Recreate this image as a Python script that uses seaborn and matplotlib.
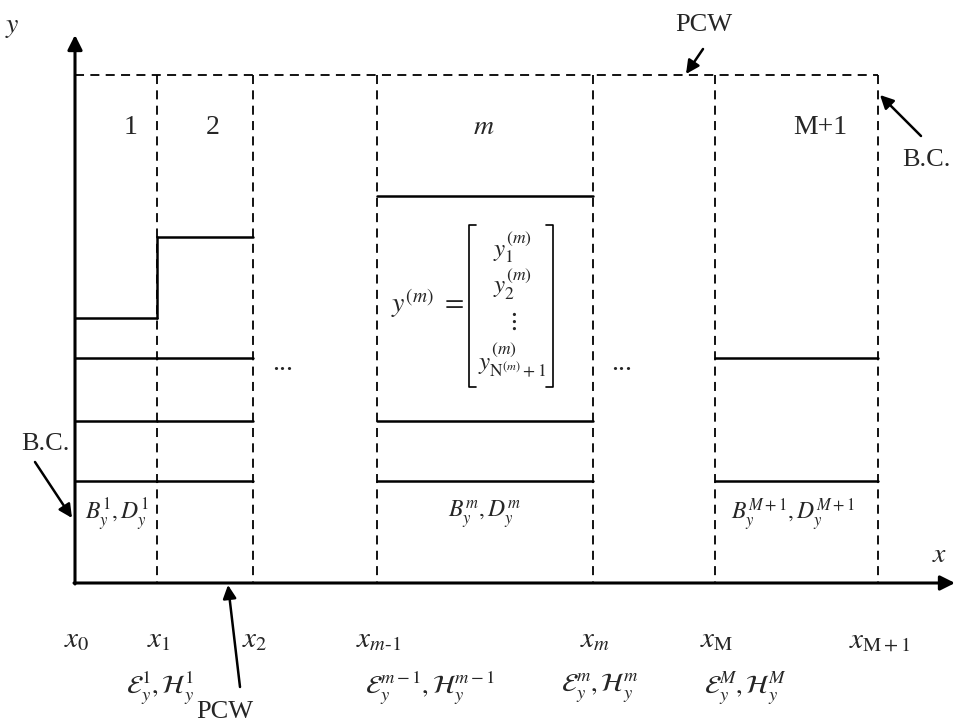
import pandas as pd
import matplotlib.pyplot as plt
import seaborn as sns

# region boundaries along x (pixel units of the drawing)
boundary_x = [75, 157, 253, 377, 593, 715, 878]
boundary_labels = [r'$x_0$', r'$x_1$', r'$x_2$', r'$x_{m\text{-}1}$', r'$x_m$', r'$x_{\mathrm{M}}$', r'$x_{\mathrm{M+1}}$']
top_y = 75
axis_y = 583

# layer interfaces in each region: (x start, x end, y)
layer_x0 = [75, 75, 75, 75, 157, 157, 157, 157, 377, 377, 377, 715, 715]
layer_x1 = [157, 157, 157, 157, 253, 253, 253, 253, 593, 593, 593, 878, 878]
layer_y = [318, 358, 421, 481, 237, 358, 421, 481, 196, 421, 481, 358, 481]

region_names = ['1', '2', '$m$', 'M+1']
region_name_x = [131, 213, 484, 820]

bd_labels = [r'$B_y^1, D_y^1$', r'$B_y^m, D_y^m$', r'$B_y^{M+1}, D_y^{M+1}$']
bd_x = [117, 484, 793]

eh_labels = [r'$\mathcal{E}_y^1, \mathcal{H}_y^1$', r'$\mathcal{E}_y^{m-1}, \mathcal{H}_y^{m-1}$',
             r'$\mathcal{E}_y^m, \mathcal{H}_y^m$', r'$\mathcal{E}_y^M, \mathcal{H}_y^M$']
eh_x = [160, 430, 600, 745]

vec_entries = [r'$y_1^{(m)}$', r'$y_2^{(m)}$', r'$\vdots$', r'$y_{\mathrm{N}^{(m)}+1}^{(m)}$']
vec_y = [247, 284, 322, 360]

sns.set_style('white')
plt.rcParams['font.family'] = ['Liberation Serif', 'DejaVu Serif']
plt.rcParams['mathtext.fontset'] = 'stix'

fig = plt.figure(figsize=(9.57, 7.26), dpi=100)
ax = fig.add_axes([0, 0, 1, 1])

# solid layer lines
segs = []
for i, (a, b, y) in enumerate(zip(layer_x0, layer_x1, layer_y)):
    segs.append({'seg': i, 'x': a, 'y': y})
    segs.append({'seg': i, 'x': b, 'y': y})
df = pd.DataFrame(segs)
sns.lineplot(data=df, x='x', y='y', units='seg', estimator=None, color='black',
             linewidth=1.8, ax=ax, sort=False)
ax.set_xlim(0, 957)
ax.set_ylim(726, 0)
ax.axis('off')

# step between region 1 and 2
ax.plot([157, 157], [237, 318], color='black', lw=1.8)

# dashed boundaries
dash = (0, (5, 3.5))
ax.plot([boundary_x[0], boundary_x[-1]], [top_y, top_y], color='black', lw=1.3, linestyle=dash)
for bx in boundary_x[1:]:
    ax.plot([bx, bx], [top_y, axis_y], color='black', lw=1.3, linestyle=dash)

# axes with arrows
arrow_kw = dict(arrowstyle='-|>', color='black', lw=2.2, mutation_scale=22, shrinkA=0, shrinkB=0)
ax.annotate('', xy=(75, 35), xytext=(75, axis_y + 1), arrowprops=arrow_kw)
ax.annotate('', xy=(955, axis_y), xytext=(74, axis_y), arrowprops=arrow_kw)
ax.text(12, 27, '$y$', fontsize=20, ha='center', va='center')
ax.text(940, 555, '$x$', fontsize=20, ha='center', va='center')

for name, nx in zip(region_names, region_name_x):
    ax.text(nx, 128, name, fontsize=20, ha='center', va='center')

for lab, bx in zip(bd_labels, bd_x):
    ax.text(bx, 515, lab, fontsize=17, ha='center', va='center')

for lab, bx in zip(boundary_labels, boundary_x):
    ax.text(bx + 2, 640, lab, fontsize=21, ha='center', va='center')

for lab, ex in zip(eh_labels, eh_x):
    ax.text(ex, 688, lab, fontsize=19, ha='center', va='center')

ax.text(283, 364, '...', fontsize=20, ha='center', va='center')
ax.text(622, 364, '...', fontsize=20, ha='center', va='center')

# column vector
ax.text(428, 303, r'$y^{(m)}\ =$', fontsize=20, ha='center', va='center')
for lab, vy in zip(vec_entries, vec_y):
    ax.text(512, vy, lab, fontsize=18, ha='center', va='center')
ax.plot([476, 469, 469, 476], [225, 225, 387, 387], color='black', lw=1.2)
ax.plot([546, 553, 553, 546], [225, 225, 387, 387], color='black', lw=1.2)

# annotations
small_arrow = dict(arrowstyle='-|>', color='black', lw=1.8, mutation_scale=20, shrinkA=0, shrinkB=0)
ax.text(704, 25, 'PCW', fontsize=19, ha='center', va='center')
ax.annotate('', xy=(686, 74), xytext=(703, 49), arrowprops=small_arrow)
ax.text(225, 712, 'PCW', fontsize=19, ha='center', va='center')
ax.annotate('', xy=(228, 585), xytext=(240, 687), arrowprops=small_arrow)
ax.text(926, 160, 'B.C.', fontsize=19, ha='center', va='center')
ax.annotate('', xy=(880, 95), xytext=(921, 136), arrowprops=small_arrow)
ax.text(45, 444, 'B.C.', fontsize=19, ha='center', va='center')
ax.annotate('', xy=(72, 518), xytext=(35, 462), arrowprops=small_arrow)

fig.savefig('out.png', dpi=100)
